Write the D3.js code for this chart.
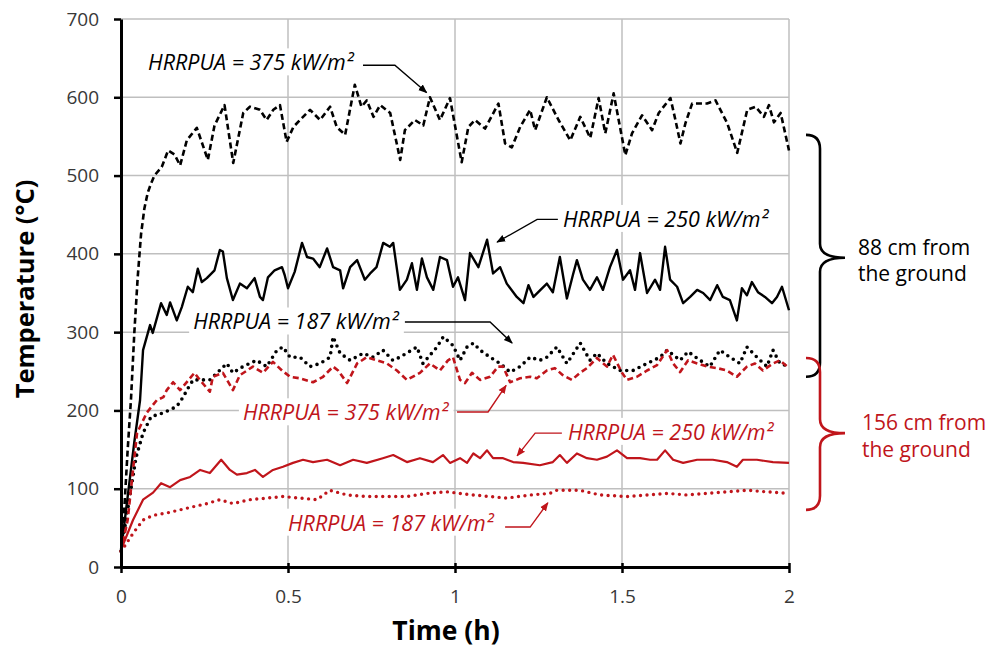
<!DOCTYPE html>
<html><head><meta charset="utf-8">
<script src="https://cdn.jsdelivr.net/npm/d3@7"></script>
<style>body{margin:0;background:#fff}svg{display:block}</style>
</head><body>
<svg id="c" width="993" height="651"></svg>
<script>
// ---- data (time in h, temperature in °C) ----
const xTicks = [0, 0.5, 1, 1.5, 2];
const xTickLabels = ["0", "0.5", "1", "1.5", "2"];
const yTicks = [0, 100, 200, 300, 400, 500, 600, 700];

// 88 cm, HRRPUA = 375 (black dashed)
const t375_88 = [0,0.01,0.02,0.03,0.04,0.05,0.06,0.07,0.08,0.09,0.1,0.122,0.141,0.16,0.177,0.197,0.227,0.26,0.28,0.31,0.336,0.366,0.386,0.416,0.436,0.456,0.476,0.496,0.516,0.536,0.566,0.596,0.626,0.646,0.671,0.70,0.72,0.736,0.756,0.776,0.806,0.836,0.85,0.88,0.905,0.925,0.955,0.985,1.02,1.04,1.06,1.09,1.13,1.15,1.17,1.195,1.225,1.24,1.275,1.31,1.345,1.375,1.405,1.43,1.45,1.475,1.49,1.51,1.53,1.56,1.59,1.61,1.645,1.66,1.675,1.69,1.71,1.755,1.78,1.815,1.845,1.875,1.9,1.925,1.94,1.955,1.975,2.0];
const T375_88 = [20,75,150,215,300,370,425,458,478,490,500,511,532,527,513,545,561,520,564,590,516,580,588,584,571,584,590,543,562,571,584,571,588,562,552,616,588,596,575,590,580,520,558,571,564,600,571,599,517,562,571,560,592,541,536,562,584,558,600,571,545,575,548,599,554,605,571,526,554,577,558,580,599,571,541,567,592,592,596,567,529,584,588,575,590,568,580,532];

// 88 cm, HRRPUA = 250 (black solid)
const t250_88 = [0,0.02,0.04,0.057,0.066,0.087,0.095,0.12,0.137,0.147,0.167,0.182,0.2,0.215,0.23,0.242,0.257,0.28,0.296,0.305,0.317,0.335,0.356,0.377,0.4,0.416,0.425,0.44,0.46,0.482,0.49,0.5,0.52,0.542,0.557,0.575,0.595,0.617,0.635,0.656,0.665,0.686,0.707,0.73,0.746,0.765,0.785,0.805,0.815,0.835,0.856,0.871,0.886,0.901,0.916,0.935,0.955,0.976,0.994,1.009,1.03,1.045,1.07,1.096,1.114,1.135,1.155,1.185,1.205,1.22,1.235,1.256,1.275,1.293,1.314,1.335,1.353,1.365,1.383,1.404,1.425,1.443,1.464,1.485,1.503,1.524,1.539,1.554,1.575,1.599,1.614,1.629,1.644,1.665,1.683,1.704,1.725,1.743,1.764,1.785,1.802,1.823,1.844,1.859,1.874,1.889,1.907,1.928,1.949,1.964,1.979,2.0];
const T250_88 = [20,90,160,213,277,309,299,337,322,338,315,332,358,351,381,364,369,379,405,403,369,341,362,356,369,345,341,370,379,383,373,356,377,414,396,394,383,407,383,379,356,383,392,367,375,383,414,409,414,354,367,388,354,394,370,354,396,392,358,370,341,401,383,418,375,383,362,345,337,360,345,354,362,351,396,343,373,392,367,354,370,354,383,405,367,379,354,401,350,367,354,409,367,358,337,345,354,350,341,360,345,341,315,356,347,364,351,345,337,345,358,328];

// 88 cm, HRRPUA = 187 (black dotted)
const t187_88 = [0,0.015,0.03,0.045,0.066,0.09,0.127,0.167,0.186,0.2,0.216,0.266,0.317,0.335,0.365,0.406,0.436,0.467,0.485,0.506,0.536,0.566,0.596,0.626,0.635,0.656,0.686,0.725,0.755,0.784,0.814,0.835,0.886,0.904,0.946,0.965,0.994,1.015,1.036,1.055,1.075,1.105,1.135,1.165,1.195,1.225,1.254,1.275,1.305,1.335,1.375,1.404,1.425,1.455,1.494,1.533,1.575,1.614,1.635,1.674,1.698,1.734,1.763,1.793,1.823,1.853,1.874,1.904,1.934,1.952,1.973,2.0];
const T187_88 = [20,60,100,140,171,192,197,205,217,228,239,239,260,248,256,264,256,277,281,268,268,256,260,268,294,273,264,273,268,277,264,268,281,260,281,294,283,264,281,286,277,268,260,249,256,268,264,268,281,260,286,264,273,260,251,251,260,268,277,264,275,264,256,277,268,260,281,268,256,277,260,256];

// 156 cm, HRRPUA = 375 (red dashed)
const t375_156 = [0,0.02,0.035,0.048,0.077,0.107,0.127,0.137,0.156,0.177,0.22,0.236,0.266,0.275,0.305,0.335,0.356,0.395,0.425,0.455,0.482,0.506,0.536,0.575,0.605,0.635,0.65,0.677,0.707,0.736,0.766,0.796,0.826,0.856,0.895,0.925,0.955,0.979,0.994,1.015,1.03,1.051,1.075,1.105,1.129,1.144,1.165,1.195,1.225,1.245,1.275,1.299,1.323,1.35,1.374,1.395,1.425,1.455,1.473,1.5,1.515,1.545,1.575,1.605,1.635,1.653,1.674,1.698,1.725,1.755,1.785,1.814,1.844,1.874,1.898,1.922,1.952,1.973,2.0];
const T375_156 = [20,60,120,171,197,213,217,226,236,226,248,239,224,243,248,226,245,256,248,262,251,243,241,236,243,256,251,235,260,268,264,260,251,239,248,260,251,264,268,239,235,248,239,243,256,256,236,241,243,241,251,254,245,239,248,254,267,256,271,248,239,243,251,258,277,260,249,264,260,256,254,251,243,256,260,251,260,264,254];

// 156 cm, HRRPUA = 250 (red solid)
const t250_156 = [0,0.036,0.066,0.096,0.12,0.147,0.177,0.207,0.237,0.266,0.3,0.326,0.347,0.377,0.401,0.425,0.455,0.485,0.515,0.545,0.575,0.617,0.656,0.695,0.736,0.784,0.815,0.856,0.895,0.934,0.964,0.985,1.015,1.036,1.055,1.075,1.096,1.114,1.144,1.174,1.204,1.254,1.293,1.314,1.335,1.365,1.395,1.425,1.455,1.485,1.515,1.554,1.584,1.605,1.629,1.653,1.683,1.725,1.772,1.814,1.844,1.862,1.904,1.952,2.0];
const T250_156 = [22,60,86,95,107,102,111,115,124,120,137,124,118,120,124,115,124,128,133,137,134,137,130,137,133,139,143,134,139,134,143,133,139,133,145,139,149,139,139,134,133,130,134,143,133,145,139,137,141,149,139,139,137,137,149,137,133,137,137,134,128,137,137,134,133];

// 156 cm, HRRPUA = 187 (red dotted)
const t187_156 = [0,0.01,0.036,0.066,0.096,0.137,0.177,0.216,0.257,0.296,0.335,0.386,0.436,0.485,0.536,0.587,0.625,0.677,0.736,0.796,0.856,0.916,0.976,1.055,1.105,1.155,1.225,1.284,1.305,1.374,1.434,1.515,1.575,1.635,1.695,1.754,1.814,1.874,1.934,2.0];
const T187_156 = [20,26,43,60,66,69,73,77,81,86,81,86,88,90,88,86,98,92,90,90,90,94,96,92,90,88,92,94,98,98,92,90,92,94,92,94,96,98,96,94];

// ---- setup ----
const BLACK = "#000", RED = "#c0151b", GRID = "#bfbfbf", TICK = "#383838";
const svg = d3.select("#c");
const x = d3.scaleLinear().domain([0, 2]).range([121, 789]);
const y = d3.scaleLinear().domain([0, 700]).range([567, 19]);

// gridlines
const g = svg.append("g");
g.selectAll("line.h").data(yTicks.filter(d => d > 0)).join("line")
  .attr("x1", x(0)).attr("x2", x(2)).attr("y1", d => y(d)).attr("y2", d => y(d))
  .attr("stroke", GRID).attr("stroke-width", 1.5);
g.selectAll("line.v").data(xTicks.filter(d => d > 0)).join("line")
  .attr("y1", y(0)).attr("y2", y(700)).attr("x1", d => x(d)).attr("x2", d => x(d))
  .attr("stroke", GRID).attr("stroke-width", 1.5);

// annotations (positions in data units)
const annotations = [
  {text: "HRRPUA = 375 kW/m²", color: BLACK, tx: 0.081, ty: 644, pts: [[0.7246, 641], [0.82, 641], [0.915, 606]]},
  {text: "HRRPUA = 250 kW/m²", color: BLACK, tx: 1.323, ty: 444, pts: [[1.308, 444], [1.246, 444], [1.126, 415]]},
  {text: "HRRPUA = 187 kW/m²", color: BLACK, tx: 0.216, ty: 313, pts: [[0.85, 313], [1.105, 313], [1.171, 286]]},
  {text: "HRRPUA = 375 kW/m²", color: RED, tx: 0.365, ty: 197, pts: [[1.006, 198], [1.099, 198], [1.153, 232]]},
  {text: "HRRPUA = 250 kW/m²", color: RED, tx: 1.338, ty: 172, pts: [[1.32, 171], [1.24, 171], [1.186, 142]]},
  {text: "HRRPUA = 187 kW/m²", color: RED, tx: 0.5, ty: 56, pts: [[1.15, 51], [1.225, 51], [1.278, 82]]}
];
const labG = svg.append("g");
annotations.forEach(a => {
  const t = labG.append("text").attr("x", x(a.tx)).attr("y", y(a.ty)).attr("dy", "0.35em")
    .attr("font-family", "Open Sans").attr("font-style", "italic").attr("font-size", 21.5)
    .attr("fill", a.color).text(a.text);
  const bb = t.node().getBBox();
  labG.insert("rect", "text").attr("x", bb.x - 4).attr("y", bb.y + 1).attr("width", bb.width + 8)
    .attr("height", bb.height - 2).attr("fill", "#fff");
});

// series
const series = [
  {t: t375_88, v: T375_88, color: BLACK, w: 2.6, dash: "6,3.5", cap: "butt"},
  {t: t250_88, v: T250_88, color: BLACK, w: 2.4, dash: null, cap: "butt"},
  {t: t187_88, v: T187_88, color: BLACK, w: 3.6, dash: "0,6.5", cap: "round"},
  {t: t375_156, v: T375_156, color: RED, w: 2.6, dash: "6,3.5", cap: "butt"},
  {t: t250_156, v: T250_156, color: RED, w: 2.2, dash: null, cap: "butt"},
  {t: t187_156, v: T187_156, color: RED, w: 3.4, dash: "0,6.5", cap: "round"}
];
const line = d3.line().x(d => x(d[0])).y(d => y(d[1]));
series.forEach(s => {
  svg.append("path").datum(s.t.map((tt, i) => [tt, s.v[i]]))
    .attr("d", line).attr("fill", "none").attr("stroke", s.color)
    .attr("stroke-width", s.w).attr("stroke-linejoin", "round").attr("stroke-linecap", s.cap)
    .attr("stroke-dasharray", s.dash);
});

// annotation arrows
const defs = svg.append("defs");
[["ab", BLACK], ["ar", RED]].forEach(([id, c]) => {
  defs.append("marker").attr("id", id).attr("viewBox", "0 0 10 10").attr("refX", 9).attr("refY", 5)
    .attr("markerWidth", 9).attr("markerHeight", 9).attr("markerUnits", "userSpaceOnUse").attr("orient", "auto")
    .append("path").attr("d", "M0,1 L10,5 L0,9 Z").attr("fill", c);
});
const aline = d3.line().x(d => x(d[0])).y(d => y(d[1]));
annotations.forEach(a => {
  svg.append("path").attr("d", aline(a.pts)).attr("fill", "none").attr("stroke", a.color)
    .attr("stroke-width", 1.4).attr("marker-end", a.color === RED ? "url(#ar)" : "url(#ab)");
});

// axes
const xAxis = d3.axisBottom(x).tickValues(xTicks).tickFormat((d, i) => xTickLabels[i]).tickSizeInner(6).tickSizeOuter(0).tickPadding(17);
const yAxis = d3.axisLeft(y).tickValues(yTicks).tickSizeInner(6).tickSizeOuter(0).tickPadding(16);
const xa = svg.append("g").attr("transform", `translate(0,${y(0)})`).call(xAxis);
const ya = svg.append("g").attr("transform", `translate(${x(0)},0)`).call(yAxis);
[xa, ya].forEach(a => {
  a.select(".domain").attr("stroke", "#000").attr("stroke-width", 3);
  a.selectAll(".tick line").attr("stroke", "#000").attr("stroke-width", 2.5);
  a.selectAll(".tick text").attr("font-family", "Open Sans").attr("font-size", 19).attr("fill", TICK);
});
xa.selectAll(".tick line").attr("y1", -4);
ya.selectAll(".tick line").attr("x1", 0).attr("x2", -7);

// axis titles
svg.append("text").attr("x", 446).attr("y", 631).attr("dy", "0.35em").attr("text-anchor", "middle")
  .attr("font-family", "Open Sans").attr("font-weight", "bold").attr("font-size", 26.5).attr("fill", "#000").text("Time (h)");
svg.append("text").attr("transform", "translate(25,289) rotate(-90)").attr("dy", "0.35em").attr("text-anchor", "middle")
  .attr("font-family", "Open Sans").attr("font-weight", "bold").attr("font-size", 25.5).attr("fill", "#000").text("Temperature (°C)");

// braces with group labels
const groups = [
  {top: 552, bottom: 243, mid: 395, color: BLACK, lines: ["88 cm from", "the ground"], tx: 858},
  {top: 267, bottom: 73, mid: 171, color: RED, lines: ["156 cm from", "the ground"], tx: 862}
];
groups.forEach(gr => {
  const y0 = y(gr.top), y1 = y(gr.bottom), ym = y(gr.mid);
  const x0 = 806, x1 = 820, x2 = 845, r = 14;
  const p = `M${x0},${y0} Q${x1},${y0} ${x1},${y0 + r} L${x1},${ym - r} Q${x1},${ym} ${x2},${ym} Q${x1},${ym} ${x1},${ym + r} L${x1},${y1 - r} Q${x1},${y1} ${x0},${y1}`;
  svg.append("path").attr("d", p).attr("fill", "none").attr("stroke", gr.color).attr("stroke-width", 2.6);
  const tt = svg.append("text").attr("x", gr.tx).attr("y", ym - 10).attr("font-family", "Open Sans")
    .attr("font-size", 21).attr("fill", gr.color);
  gr.lines.forEach((l, i) => tt.append("tspan").attr("x", gr.tx).attr("dy", i === 0 ? "0.35em" : "1.25em").text(l));
});
</script>
</body></html>
